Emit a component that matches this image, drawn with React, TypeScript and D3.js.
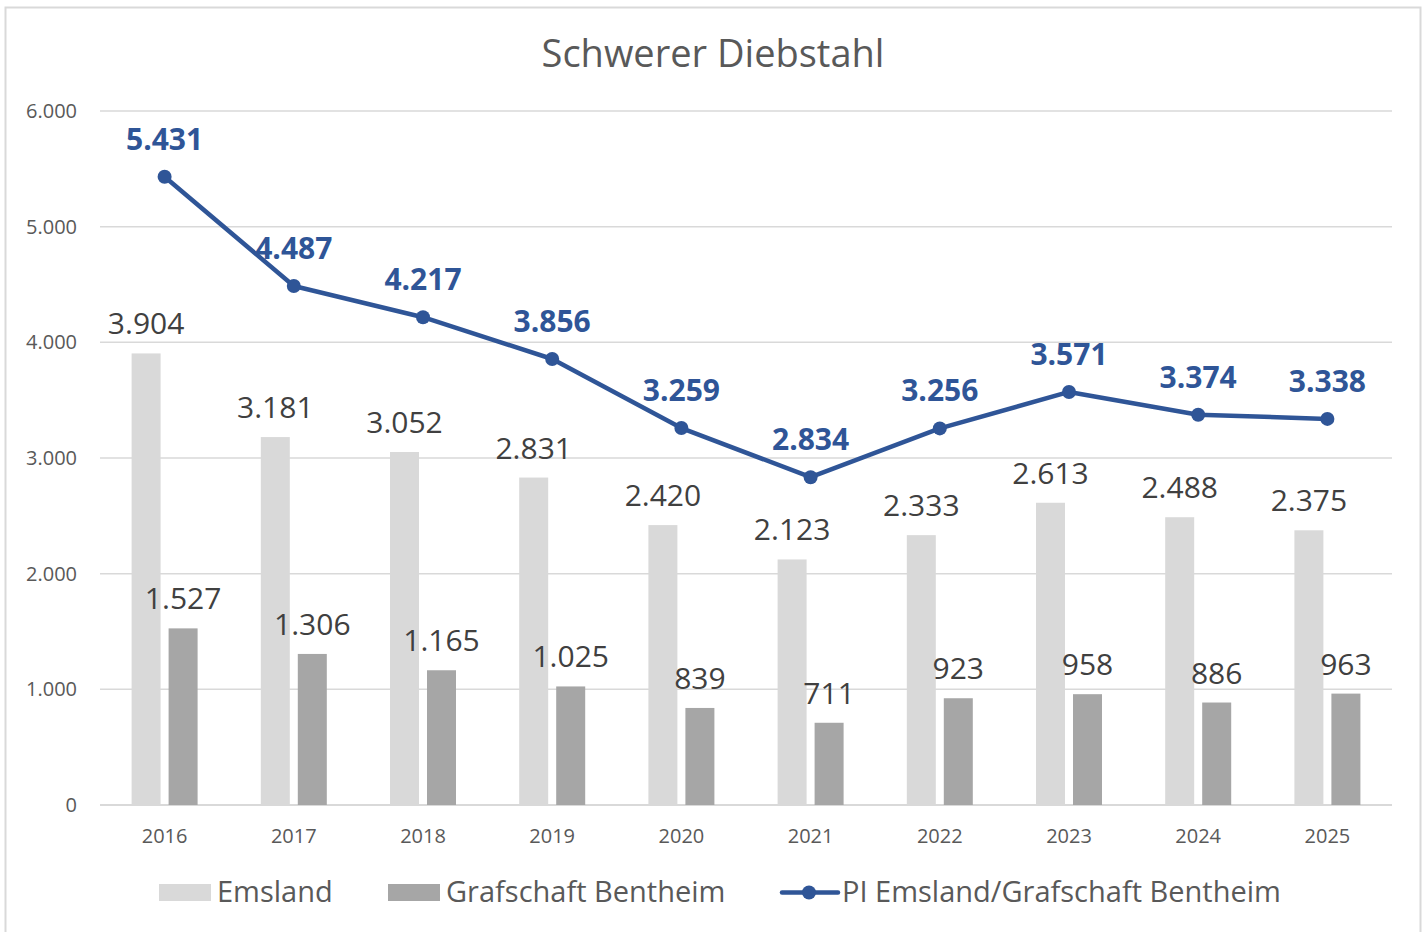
import React from 'react';
import * as d3 from 'd3';

const years = ['2016', '2017', '2018', '2019', '2020', '2021', '2022', '2023', '2024', '2025'];
const emsland = [3904, 3181, 3052, 2831, 2420, 2123, 2333, 2613, 2488, 2375];
const grafschaft = [1527, 1306, 1165, 1025, 839, 711, 923, 958, 886, 963];
const piTotal = [5431, 4487, 4217, 3856, 3259, 2834, 3256, 3571, 3374, 3338];
const yTicks = [0, 1000, 2000, 3000, 4000, 5000, 6000];

const W = 1428;
const H = 932;
const FONT = '"Open Sans", "Noto Sans", sans-serif';
const fmt = (v: number) => d3.format(',')(v).replace(/,/g, '.');

const App: React.FC = () => {
  const x = d3.scaleBand<string>().domain(years).range([100, 1392]);
  const y = d3.scaleLinear().domain([0, 6000]).range([805, 111]);
  const bw = 29;
  const cx = (yr: string) => (x(yr) ?? 0) + x.bandwidth() / 2;

  const line = d3.line<number>()
    .x((_, i) => cx(years[i]))
    .y(d => y(d));

  return (
    <svg width={W} height={H} style={{ display: 'block', position: 'absolute', left: 0, top: 0 }}>
      <rect x={0} y={0} width={W} height={H} fill="#fff" />
      <rect x={5.5} y={7.5} width={1415} height={940} fill="#fff" stroke="#d9d9d9" strokeWidth={2} />
      <text x={713} y={67} textAnchor="middle" fontFamily={FONT} fontSize={38} fill="#595959">Schwerer Diebstahl</text>

      {yTicks.map(t => (
        <g key={t}>
          <line x1={100} x2={1392} y1={y(t)} y2={y(t)} stroke="#d9d9d9" strokeWidth={t === 0 ? 2 : 1.5} />
          <text x={77} y={y(t) + 7} textAnchor="end" fontFamily={FONT} fontSize={20} fill="#595959">{fmt(t)}</text>
        </g>
      ))}

      {years.map((yr, i) => (
        <g key={yr}>
          <rect x={cx(yr) - 4 - bw} y={y(emsland[i])} width={bw} height={y(0) - y(emsland[i])} fill="#d9d9d9" />
          <rect x={cx(yr) + 4} y={y(grafschaft[i])} width={bw} height={y(0) - y(grafschaft[i])} fill="#a6a6a6" />
          <text x={cx(yr) - 4 - bw / 2} y={y(emsland[i]) - 19} textAnchor="middle" fontFamily={FONT} fontSize={30} fill="#404040">{fmt(emsland[i])}</text>
          <text x={cx(yr) + 4 + bw / 2} y={y(grafschaft[i]) - 19} textAnchor="middle" fontFamily={FONT} fontSize={30} fill="#404040">{fmt(grafschaft[i])}</text>
          <text x={cx(yr)} y={843} textAnchor="middle" fontFamily={FONT} fontSize={20} fill="#595959">{yr}</text>
        </g>
      ))}

      <path d={line(piTotal) ?? ''} fill="none" stroke="#2f5597" strokeWidth={4.5} strokeLinejoin="round" />
      {years.map((yr, i) => (
        <g key={'p' + yr}>
          <circle cx={cx(yr)} cy={y(piTotal[i])} r={7} fill="#2f5597" />
          <text x={cx(yr)} y={y(piTotal[i]) - 27} textAnchor="middle" fontFamily={FONT} fontSize={30} fontWeight="bold" fill="#2f5597">{fmt(piTotal[i])}</text>
        </g>
      ))}

      <g fontFamily={FONT} fontSize={29} fill="#595959">
        <rect x={159} y={884} width={52} height={17} fill="#d9d9d9" />
        <text x={217} y={902}>Emsland</text>
        <rect x={388} y={884} width={52} height={17} fill="#a6a6a6" />
        <text x={446} y={902}>Grafschaft Bentheim</text>
        <line x1={782} x2={838} y1={892.5} y2={892.5} stroke="#2f5597" strokeWidth={4.5} strokeLinecap="round" />
        <circle cx={809} cy={892.5} r={7} fill="#2f5597" />
        <text x={842} y={902}>PI Emsland/Grafschaft Bentheim</text>
      </g>
    </svg>
  );
};

export default App;
